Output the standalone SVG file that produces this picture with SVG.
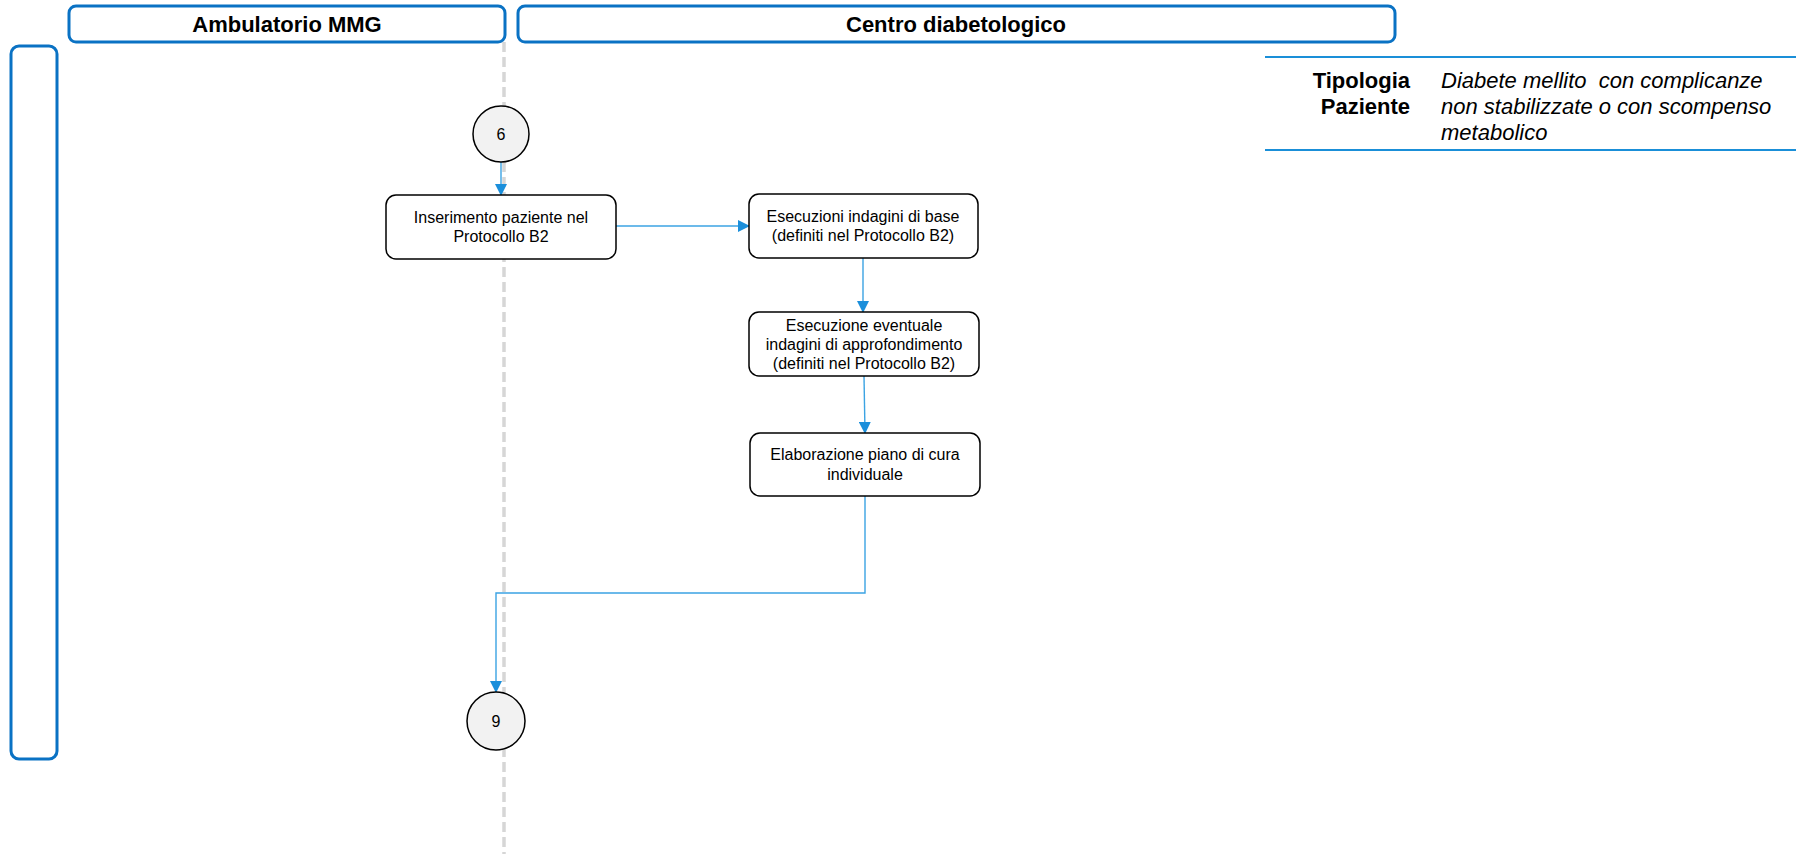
<svg xmlns="http://www.w3.org/2000/svg" width="1796" height="854" viewBox="0 0 1796 854">
  <defs>
    <marker id="arrow" markerWidth="12" markerHeight="12" refX="11" refY="6" orient="auto" markerUnits="userSpaceOnUse">
      <path d="M0,0 L12,6 L0,12 Z" fill="#1b8fdb"/>
    </marker>
  </defs>
  <style>
    .lane { fill: #ffffff; stroke: #0a72c4; stroke-width: 3; }
    .lane-title { font-family: "Liberation Sans", Arial, sans-serif; font-size: 22px; font-weight: bold; fill: #000; text-anchor: middle; }
    .step { fill: #ffffff; stroke: #000; stroke-width: 1.5; }
    .step-text { font-family: "Liberation Sans", Arial, sans-serif; font-size: 16px; fill: #000; text-anchor: middle; }
    .connector-dot { fill: #f2f2f2; stroke: #000; stroke-width: 1.5; }
    .flow { fill: none; stroke: #3ba3e3; stroke-width: 1.4; }
    .divider { stroke: #d6d6d6; stroke-width: 3.5; stroke-dasharray: 10 5; fill: none; }
    .rule { stroke: #1a8fd8; stroke-width: 2; }
    .info-label { font-family: "Liberation Sans", Arial, sans-serif; font-size: 22px; font-weight: bold; fill: #000; text-anchor: end; }
    .info-text { font-family: "Liberation Sans", Arial, sans-serif; font-size: 22px; font-style: italic; fill: #000; }
  </style>

  <!-- lane divider -->
  <line class="divider" x1="504" y1="42" x2="504" y2="854"/>

  <!-- lane headers -->
  <g id="lane-mmg">
    <rect class="lane" x="69" y="6" width="436" height="36" rx="7"/>
    <text class="lane-title" x="287" y="32">Ambulatorio MMG</text>
  </g>
  <g id="lane-centro">
    <rect class="lane" x="518" y="6" width="877" height="36" rx="7"/>
    <text class="lane-title" x="956" y="32">Centro diabetologico</text>
  </g>
  <g id="lane-row">
    <rect class="lane" x="11" y="46" width="46" height="713" rx="8"/>
  </g>

  <!-- patient type table -->
  <g id="patient-type">
    <line class="rule" x1="1265" y1="57" x2="1796" y2="57"/>
    <line class="rule" x1="1265" y1="150" x2="1796" y2="150"/>
    <text class="info-label" x="1410" y="88">Tipologia</text>
    <text class="info-label" x="1410" y="114">Paziente</text>
    <text class="info-text" x="1441" y="88" xml:space="preserve">Diabete mellito  con complicanze</text>
    <text class="info-text" x="1441" y="114">non stabilizzate o con scompenso</text>
    <text class="info-text" x="1441" y="140">metabolico</text>
  </g>

  <!-- connectors -->
  <g id="connectors">
    <line class="flow" x1="501" y1="162" x2="501" y2="195" marker-end="url(#arrow)"/>
    <line class="flow" x1="616" y1="226" x2="749" y2="226" marker-end="url(#arrow)"/>
    <line class="flow" x1="863" y1="258" x2="863" y2="312" marker-end="url(#arrow)"/>
    <line class="flow" x1="864" y1="376" x2="865" y2="433" marker-end="url(#arrow)"/>
    <polyline class="flow" points="865,496 865,593 496,593 496,692" marker-end="url(#arrow)"/>
  </g>

  <!-- nodes -->
  <g id="node-6">
    <circle class="connector-dot" cx="501" cy="134" r="28"/>
    <text class="step-text" x="501" y="140">6</text>
  </g>
  <g id="node-inserimento">
    <rect class="step" x="386" y="195" width="230" height="64" rx="10"/>
    <text class="step-text" x="501" y="223">Inserimento paziente nel</text>
    <text class="step-text" x="501" y="242">Protocollo B2</text>
  </g>
  <g id="node-indagini-base">
    <rect class="step" x="749" y="194" width="229" height="64" rx="10"/>
    <text class="step-text" x="863" y="222">Esecuzioni indagini di base</text>
    <text class="step-text" x="863" y="241">(definiti nel Protocollo B2)</text>
  </g>
  <g id="node-approfondimento">
    <rect class="step" x="749" y="312" width="230" height="64" rx="10"/>
    <text class="step-text" x="864" y="331">Esecuzione eventuale</text>
    <text class="step-text" x="864" y="350">indagini di approfondimento</text>
    <text class="step-text" x="864" y="369">(definiti nel Protocollo B2)</text>
  </g>
  <g id="node-piano-cura">
    <rect class="step" x="750" y="433" width="230" height="63" rx="10"/>
    <text class="step-text" x="865" y="460">Elaborazione piano di cura</text>
    <text class="step-text" x="865" y="480">individuale</text>
  </g>
  <g id="node-9">
    <circle class="connector-dot" cx="496" cy="721" r="29"/>
    <text class="step-text" x="496" y="727">9</text>
  </g>
</svg>
